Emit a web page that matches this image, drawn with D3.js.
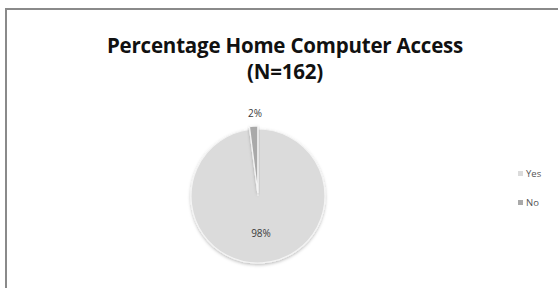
<!DOCTYPE html>
<html>
<head>
<meta charset="utf-8">
<script src="https://cdn.jsdelivr.net/npm/d3@7"></script>
<style>
  body { margin: 0; background: #fff; }
  svg { display: block; font-family: 'Open Sans', 'DejaVu Sans', sans-serif; }
</style>
</head>
<body>
<svg id="chart" width="558" height="288"></svg>
<script>
const categories = ['Yes', 'No']
const values = [98, 2]
const colors = ['#dbdbdb', '#a9a9a9']
const titleLines = ['Percentage Home Computer Access', '(N=162)']

const width = 558
const height = 288
const cx = 258
const cy = 196
const radius = 67

const svg = d3.select('#chart')

// Drop shadow under the pie
const defs = svg.append('defs')
const shadow = defs.append('filter').attr('id', 'shadow')
  .attr('x', '-20%').attr('y', '-20%').attr('width', '140%').attr('height', '140%')
shadow.append('feDropShadow')
  .attr('dx', 0).attr('dy', 1.5).attr('stdDeviation', 1.5)
  .attr('flood-color', '#000').attr('flood-opacity', 0.25)

// Frame (only top and left edges show in the crop)
svg.append('path')
  .attr('d', `M6,${height} V9 H${width}`)
  .attr('fill', 'none')
  .attr('stroke', '#8a8a8a')
  .attr('stroke-width', 2)

// Title
svg.append('g')
  .selectAll('text')
  .data(titleLines)
  .join('text')
  .attr('x', 285)
  .attr('y', (d, i) => 53 + i * 26)
  .attr('text-anchor', 'middle')
  .attr('font-size', 20.5)
  .attr('font-weight', 'bold')
  .attr('fill', '#111')
  .attr('letter-spacing', -0.2)
  .text((d) => d)

const colorScale = d3.scaleOrdinal(categories, colors)
const data = categories.map((c, i) => ({ key: c, value: values[i] }))

const pie = d3.pie().sort(null).value((d) => d.value)
const arcs = pie(data)
const arc = d3.arc().innerRadius(0).outerRadius(radius)

const plot = svg.append('g')
  .attr('transform', `translate(${cx},${cy})`)

plot.selectAll('path')
  .data(arcs)
  .join('path')
  .attr('transform', (d) => {
    if (d.data.key !== 'No') return null
    const a = (d.startAngle + d.endAngle) / 2
    return `translate(${Math.sin(a) * 3},${-Math.cos(a) * 3})`
  })
  .attr('d', arc)
  .attr('fill', (d) => colorScale(d.data.key))
  .attr('stroke', '#f4f4f4')
  .attr('stroke-width', 1.2)
  .attr('filter', 'url(#shadow)')

// Data labels
const labelPos = { Yes: [3, 41], No: [-3, -79] }
plot.selectAll('text.label')
  .data(arcs)
  .join('text')
  .classed('label', true)
  .attr('x', (d) => labelPos[d.data.key][0])
  .attr('y', (d) => labelPos[d.data.key][1])
  .attr('text-anchor', 'middle')
  .attr('font-size', 10)
  .attr('fill', '#3a3a3a')
  .text((d) => `${d.data.value}%`)

// Legend
const legend = svg.append('g')
  .attr('transform', 'translate(518,171)')
  .selectAll('g')
  .data(categories)
  .join('g')
  .attr('transform', (d, i) => `translate(0,${i * 29})`)

legend.append('rect')
  .attr('width', 5)
  .attr('height', 5)
  .attr('fill', (d) => colorScale(d))

legend.append('text')
  .attr('x', 8)
  .attr('y', 6)
  .attr('font-size', 9.5)
  .attr('fill', '#555')
  .text((d) => d)
</script>
</body>
</html>
